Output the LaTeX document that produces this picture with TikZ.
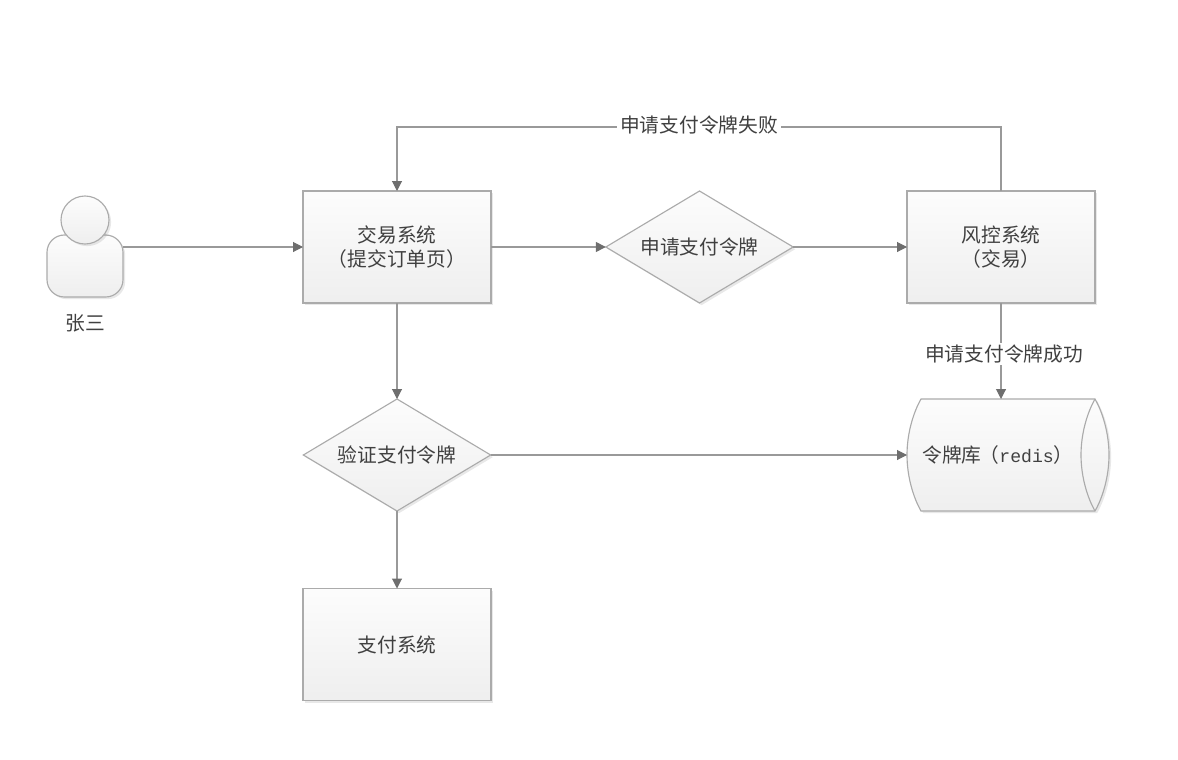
\documentclass[tikz,border=0pt]{standalone}
\usepackage{fontspec}
\setmainfont{Noto Sans CJK SC}
\newfontfamily\latinfont{Liberation Mono}
\usetikzlibrary{shapes.geometric,arrows.meta,shadows}
\definecolor{edgegray}{HTML}{999999}
\definecolor{tipgray}{HTML}{6E6E6E}
\definecolor{shapeline}{HTML}{ABABAB}
\definecolor{labelgray}{HTML}{404040}
\tikzset{
  softshadow/.style={drop shadow={shadow xshift=1.6pt,shadow yshift=-1.6pt,fill=black,opacity=.09}},
  shapefill/.style={draw=shapeline,line width=.85pt,top color=white!99!black,bottom color=white!93.5!black,softshadow},
  labelfont/.style={font=\fontsize{14.8}{18}\selectfont,text=labelgray,align=center,inner sep=0pt,outer sep=0pt},
  procbox/.style={shapefill,labelfont,rectangle,minimum width=141pt,minimum height=84pt},
  decision/.style={shapefill,labelfont,diamond,aspect=1.67,minimum width=140.5pt,minimum height=84pt},
  flow/.style={draw=edgegray,line width=.8pt,-{Triangle[length=7.5pt,width=7.5pt,color=tipgray,fill=tipgray]}},
  flowlabel/.style={labelfont,fill=white,inner xsep=2pt,inner ysep=1pt}
}
\begin{document}
\begin{tikzpicture}[x=.75pt,y=-.75pt]
\useasboundingbox (0,0) rectangle (1178,760);
% person
\node[shapefill,rectangle,rounded corners=13pt,minimum width=57pt,minimum height=46.5pt,inner sep=0pt,outer sep=0pt] (body) at (85,266) {};
\node[shapefill,circle,minimum size=36pt,inner sep=0pt,outer sep=0pt] (head) at (85,220) {};
\node[labelfont] (name) at (85,323) {张三};
\coordinate (personout) at (body.east |- 0,247);
% boxes
\node[procbox] (trade) at (397,247) {交易系统\\（提交订单页）};
\node[decision] (apply) at (699.5,247) {申请支付令牌};
\node[procbox] (risk) at (1001,247) {风控系统\\（交易）};
\node[decision] (verify) at (397,455) {验证支付令牌};
\node[procbox] (pay) at (397,644.5) {支付系统};
% cylinder
\path[shapefill] (921,399) -- (1095,399) .. controls (1103,413) and (1109,434) .. (1109,455)
  .. controls (1109,476) and (1103,497) .. (1095,511) -- (921,511)
  .. controls (913,497) and (907,476) .. (907,455)
  .. controls (907,434) and (913,413) .. (921,399) -- cycle;
\draw[draw=shapeline,line width=.85pt] (1095,399) .. controls (1087,413) and (1081,434) .. (1081,455)
  .. controls (1081,476) and (1087,497) .. (1095,511);
\node[rectangle,minimum width=141pt,minimum height=84pt,inner sep=0pt,outer sep=0pt] (store) at (1001,455) {};
\node[labelfont] (storelabel) at (998,455) {令牌库\hspace{-1.5pt}（{\latinfont\fontsize{13.6}{18}\selectfont redis}）};
% connectors
\draw[flow] (personout) -- (trade.west);
\draw[flow] (trade.east) -- (apply.west);
\draw[flow] (apply.east) -- (risk.west);
\draw[flow] (trade.south) -- (verify.north);
\draw[flow] (verify.south) -- (pay.north);
\draw[flow] (verify.east) -- (store.west);
\draw[flow] (risk.south) -- (store.north);
\draw[flow] (risk.north) -- (1001,127) -- (397,127) -- (trade.north);
\node[flowlabel] (faillabel) at (699,125) {申请支付令牌失败};
\node[flowlabel] (oklabel) at (1004,354) {申请支付令牌成功};
\end{tikzpicture}
\end{document}
